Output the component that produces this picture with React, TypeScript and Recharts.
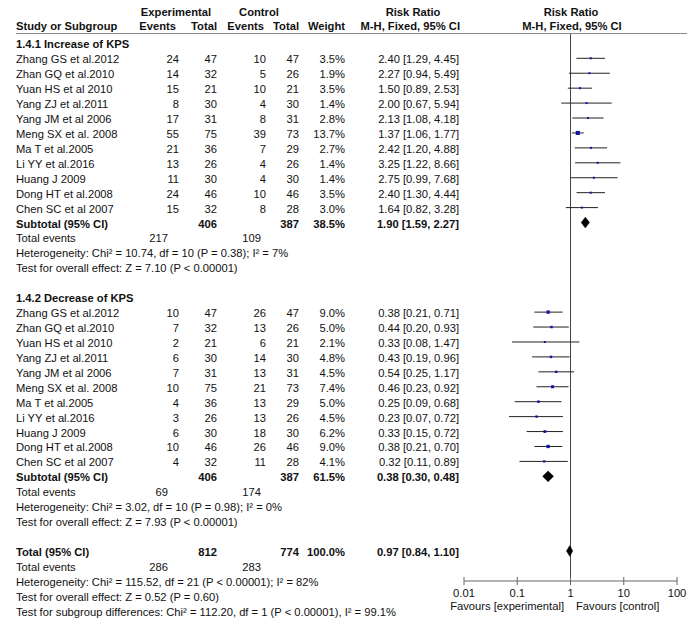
import React from "react";
import { ComposedChart, Scatter, XAxis, YAxis, ReferenceLine, ErrorBar } from "recharts";

// ---- data ----
const studies = [
  "Zhang GS et al.2012",
  "Zhan GQ et al.2010",
  "Yuan HS et al 2010",
  "Yang ZJ et al.2011",
  "Yang JM et al 2006",
  "Meng SX et al. 2008",
  "Ma T et al.2005",
  "Li YY et al.2016",
  "Huang J 2009",
  "Dong HT et al.2008",
  "Chen SC et al 2007",
];

const g1ExpEvents = [24, 14, 15, 8, 17, 55, 21, 13, 11, 24, 15];
const g1ExpTotal = [47, 32, 21, 30, 31, 75, 36, 26, 30, 46, 32];
const g1CtrlEvents = [10, 5, 10, 4, 8, 39, 7, 4, 4, 10, 8];
const g1CtrlTotal = [47, 26, 21, 30, 31, 73, 29, 26, 30, 46, 28];
const g1Weight = [3.5, 1.9, 3.5, 1.4, 2.8, 13.7, 2.7, 1.4, 1.4, 3.5, 3.0];
const g1RR = [2.4, 2.27, 1.5, 2.0, 2.13, 1.37, 2.42, 3.25, 2.75, 2.4, 1.64];
const g1Lo = [1.29, 0.94, 0.89, 0.67, 1.08, 1.06, 1.2, 1.22, 0.99, 1.3, 0.82];
const g1Hi = [4.45, 5.49, 2.53, 5.94, 4.18, 1.77, 4.88, 8.66, 7.68, 4.44, 3.28];

const g2ExpEvents = [10, 7, 2, 6, 7, 10, 4, 3, 6, 10, 4];
const g2ExpTotal = [47, 32, 21, 30, 31, 75, 36, 26, 30, 46, 32];
const g2CtrlEvents = [26, 13, 6, 14, 13, 21, 13, 13, 18, 26, 11];
const g2CtrlTotal = [47, 26, 21, 30, 31, 73, 29, 26, 30, 46, 28];
const g2Weight = [9.0, 5.0, 2.1, 4.8, 4.5, 7.4, 5.0, 4.5, 6.2, 9.0, 4.1];
const g2RR = [0.38, 0.44, 0.33, 0.43, 0.54, 0.46, 0.25, 0.23, 0.33, 0.38, 0.32];
const g2Lo = [0.21, 0.2, 0.08, 0.19, 0.25, 0.23, 0.09, 0.07, 0.15, 0.21, 0.11];
const g2Hi = [0.71, 0.93, 1.47, 0.96, 1.17, 0.92, 0.68, 0.72, 0.72, 0.7, 0.89];

// subtotal / total: [expTotal, ctrlTotal, weight, rr, lo, hi, expEvents, ctrlEvents]
const sub1 = [406, 387, 38.5, 1.9, 1.59, 2.27, 217, 109];
const sub2 = [406, 387, 61.5, 0.38, 0.3, 0.48, 69, 174];
const overall = [812, 774, 100.0, 0.97, 0.84, 1.1, 286, 283];

const het1 = "Heterogeneity: Chi² = 10.74, df = 10 (P = 0.38); I² = 7%";
const eff1 = "Test for overall effect: Z = 7.10 (P < 0.00001)";
const het2 = "Heterogeneity: Chi² = 3.02, df = 10 (P = 0.98); I² = 0%";
const eff2 = "Test for overall effect: Z = 7.93 (P < 0.00001)";
const hetAll = "Heterogeneity: Chi² = 115.52, df = 21 (P < 0.00001); I² = 82%";
const effAll = "Test for overall effect: Z = 0.52 (P = 0.60)";
const subDiff = "Test for subgroup differences: Chi² = 112.20, df = 1 (P < 0.00001), I² = 99.1%";

const xTicks = [0.01, 0.1, 1, 10, 100];

// ---- layout ----
const W = 694;
const H = 628;
const ROW0 = 58.3;
const ROW_H = 14.93;
const PLOT_TOP = 34;
const PLOT_BOTTOM = 581;
const rowY = (r: number) => ROW0 + r * ROW_H;
const yDomain = [(PLOT_TOP - ROW0) / ROW_H, (PLOT_BOTTOM - ROW0) / ROW_H];

const G1 = 0;
const G2 = 17;
const TOT = 33;

const FONT = "'Liberation Sans', Arial, sans-serif";
const FS = 11.2;
const INK = "#111";
const BLUE = "#1212a6";

const colEv1 = 179;
const colTot1 = 217;
const colEv2 = 266;
const colTot2 = 299;
const colW = 345;
const colCI = 459;

const ci = (rr: number, lo: number, hi: number) =>
  `${rr.toFixed(2)} [${lo.toFixed(2)}, ${hi.toFixed(2)}]`;

function points(rr: number[], lo: number[], hi: number[], w: number[], start: number) {
  return rr.map((v, i) => ({ x: v, r: start + i, w: w[i], err: [v - lo[i], hi[i] - v] }));
}

function diamond(s: number[], r: number) {
  return [
    { x: s[4], r },
    { x: s[3], r: r - 0.36 },
    { x: s[5], r },
    { x: s[3], r: r + 0.36 },
  ];
}

const studyData = [
  ...points(g1RR, g1Lo, g1Hi, g1Weight, G1),
  ...points(g2RR, g2Lo, g2Hi, g2Weight, G2),
];

const SquareShape = (p: any) => {
  const s = Math.max(2, Math.sqrt(p.payload.w) * 1.1);
  return <rect x={p.cx - s / 2} y={p.cy - s / 2} width={s} height={s} fill={BLUE} />;
};

const DiamondLine = (p: any) => {
  const pts = (p.points || []).map((q: any) => `${q.x},${q.y}`).join(" ");
  return <polygon points={pts} fill="#000" stroke="#000" strokeWidth={0.5} />;
};

const AxisTick = (p: any) => {
  const { x, y, payload } = p;
  return (
    <g>
      <line x1={x} x2={x} y1={y - 4} y2={y + 4} stroke="#666" />
      <text x={x} y={y + 16} textAnchor="middle" fontSize={FS} fontFamily={FONT} fill={INK}>
        {payload.value}
      </text>
    </g>
  );
};

function Txt({ x, r, y, anchor = "start", bold = false, children }: any) {
  return (
    <text
      x={x}
      y={y ?? rowY(r) + 5}
      textAnchor={anchor}
      fontWeight={bold ? "bold" : "normal"}
    >
      {children}
    </text>
  );
}

function GroupRows({ start, title, ev1, t1, ev2, t2, w, rr, lo, hi, sub, het, eff }: any) {
  return (
    <g>
      <Txt x={16} r={start - 1} bold>{title}</Txt>
      {studies.map((name, i) => (
        <g key={name}>
          <Txt x={16} r={start + i}>{name}</Txt>
          <Txt x={colEv1} r={start + i} anchor="end">{ev1[i]}</Txt>
          <Txt x={colTot1} r={start + i} anchor="end">{t1[i]}</Txt>
          <Txt x={colEv2} r={start + i} anchor="end">{ev2[i]}</Txt>
          <Txt x={colTot2} r={start + i} anchor="end">{t2[i]}</Txt>
          <Txt x={colW} r={start + i} anchor="end">{w[i].toFixed(1)}%</Txt>
          <Txt x={colCI} r={start + i} anchor="end">{ci(rr[i], lo[i], hi[i])}</Txt>
        </g>
      ))}
      <SummaryRows start={start + 11} label="Subtotal (95% CI)" s={sub} het={het} eff={eff} />
    </g>
  );
}

function SummaryRows({ start, label, s, het, eff }: any) {
  return (
    <g>
      <Txt x={16} r={start} bold>{label}</Txt>
      <Txt x={colTot1} r={start} anchor="end" bold>{s[0]}</Txt>
      <Txt x={colTot2} r={start} anchor="end" bold>{s[1]}</Txt>
      <Txt x={colW} r={start} anchor="end" bold>{s[2].toFixed(1)}%</Txt>
      <Txt x={colCI} r={start} anchor="end" bold>{ci(s[3], s[4], s[5])}</Txt>
      <Txt x={16} r={start + 1}>Total events</Txt>
      <Txt x={168} r={start + 1} anchor="end">{s[6]}</Txt>
      <Txt x={261} r={start + 1} anchor="end">{s[7]}</Txt>
      <Txt x={16} r={start + 2}>{het}</Txt>
      <Txt x={16} r={start + 3}>{eff}</Txt>
    </g>
  );
}

function TableOverlay() {
  return (
    <svg
      width={W}
      height={H}
      style={{ position: "absolute", left: 0, top: 0, pointerEvents: "none" }}
      fontFamily={FONT}
      fontSize={FS}
      fill={INK}
    >
      {/* header */}
      <Txt x={176} y={16} anchor="middle" bold>Experimental</Txt>
      <Txt x={259} y={16} anchor="middle" bold>Control</Txt>
      <Txt x={413} y={16} anchor="middle" bold>Risk Ratio</Txt>
      <Txt x={571} y={16} anchor="middle" bold>Risk Ratio</Txt>
      <Txt x={16} y={29.5} bold>Study or Subgroup</Txt>
      <Txt x={176} y={29.5} anchor="end" bold>Events</Txt>
      <Txt x={colTot1} y={29.5} anchor="end" bold>Total</Txt>
      <Txt x={264} y={29.5} anchor="end" bold>Events</Txt>
      <Txt x={colTot2} y={29.5} anchor="end" bold>Total</Txt>
      <Txt x={colW} y={29.5} anchor="end" bold>Weight</Txt>
      <Txt x={460} y={29.5} anchor="end" bold>M-H, Fixed, 95% CI</Txt>
      <Txt x={572} y={29.5} anchor="middle" bold>M-H, Fixed, 95% CI</Txt>
      <line x1={16} x2={687} y1={33.5} y2={33.5} stroke="#8a8a8a" />

      <GroupRows
        start={G1}
        title="1.4.1 Increase of KPS"
        ev1={g1ExpEvents}
        t1={g1ExpTotal}
        ev2={g1CtrlEvents}
        t2={g1CtrlTotal}
        w={g1Weight}
        rr={g1RR}
        lo={g1Lo}
        hi={g1Hi}
        sub={sub1}
        het={het1}
        eff={eff1}
      />
      <GroupRows
        start={G2}
        title="1.4.2 Decrease of KPS"
        ev1={g2ExpEvents}
        t1={g2ExpTotal}
        ev2={g2CtrlEvents}
        t2={g2CtrlTotal}
        w={g2Weight}
        rr={g2RR}
        lo={g2Lo}
        hi={g2Hi}
        sub={sub2}
        het={het2}
        eff={eff2}
      />
      <SummaryRows start={TOT} label="Total (95% CI)" s={overall} het={hetAll} eff={effAll} />
      <Txt x={16} r={TOT + 4}>{subDiff}</Txt>

      <Txt x={564} y={610} anchor="end">Favours [experimental]</Txt>
      <Txt x={576} y={610}>Favours [control]</Txt>
    </svg>
  );
}

export default function App() {
  return (
    <div style={{ position: "absolute", left: 0, top: 0, width: W, height: H, background: "#fff" }}>
      <ComposedChart
        width={W}
        height={H}
        margin={{ top: PLOT_TOP, right: W - 677, bottom: H - PLOT_BOTTOM - 30, left: 464 }}
      >
        <XAxis
          type="number"
          dataKey="x"
          scale="log"
          domain={[0.01, 100]}
          ticks={xTicks}
          allowDataOverflow
          height={30}
          tickSize={0}
          tickMargin={0}
          tickLine={false}
          axisLine={{ stroke: "#666" }}
          tick={<AxisTick />}
          interval={0}
        />
        <YAxis type="number" dataKey="r" domain={yDomain} reversed hide width={0} allowDataOverflow />
        <ReferenceLine x={1} stroke="#444" strokeWidth={1} />
        <Scatter data={studyData} shape={<SquareShape />} isAnimationActive={false}>
          <ErrorBar dataKey="err" direction="x" width={0} stroke="#222" strokeWidth={1} />
        </Scatter>
        {[
          { key: "s1", d: diamond(sub1, G1 + 11) },
          { key: "s2", d: diamond(sub2, G2 + 11) },
          { key: "tot", d: diamond(overall, TOT) },
        ].map((dd) => (
          <Scatter
            key={dd.key}
            data={dd.d}
            line={DiamondLine}
            lineType="joint"
            shape={() => <g />}
            isAnimationActive={false}
          />
        ))}
      </ComposedChart>
      <TableOverlay />
    </div>
  );
}
